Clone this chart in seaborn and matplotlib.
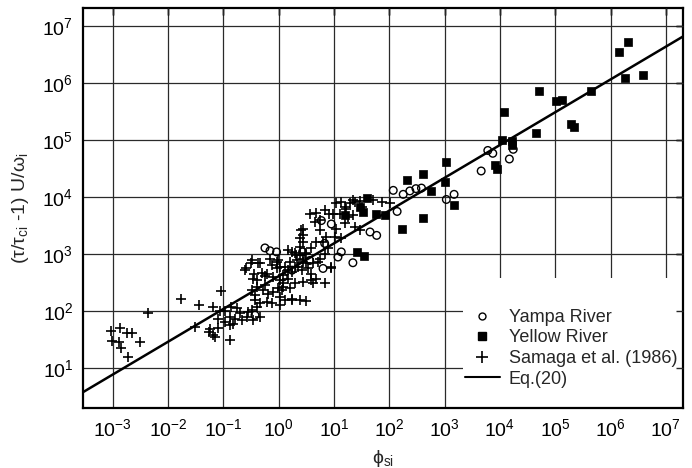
import numpy as np
import matplotlib
matplotlib.use("Agg")
import matplotlib.pyplot as plt
import seaborn as sns
from matplotlib.patches import Rectangle
from matplotlib.lines import Line2D
from matplotlib.ticker import NullLocator

# values, stored as log10(phi_si) and log10(y)
yampa_lx = [3.78, 3.87, 4.24, 4.17, 3.66, 2.07, 2.25, 2.37, 2.48, 2.58,
            2.14, 3.03, 3.17, 1.65, 1.77, 1.13, 1.07, 1.34, 0.77, 0.95,
            -0.25, -0.16, -0.04, 0.80, 0.08, -0.43, 0.43, 0.83, 0.24, 0.56]
yampa_ly = [4.82, 4.77, 4.84, 4.67, 4.46, 4.12, 4.05, 4.11, 4.15, 4.16,
            3.75, 3.96, 4.05, 3.39, 3.33, 3.04, 2.95, 2.85, 3.59, 3.53,
            3.11, 3.06, 3.04, 2.75, 2.60, 1.93, 3.04, 3.19, 2.72, 2.89]

yellow_lx = [6.32, 6.16, 6.58, 6.27, 5.64, 4.71, 5.02, 5.13, 4.07, 5.29,
             5.34, 4.66, 4.03, 4.21, 4.21, 3.91, 3.95, 3.03, 2.61, 2.32,
             3.00, 2.75, 3.16, 2.61, 2.22, 1.92, 1.76, 1.60, 1.52, 1.41,
             1.54, 1.19, 1.46]
yellow_ly = [6.72, 6.54, 6.14, 6.09, 5.87, 5.86, 5.69, 5.70, 5.49, 5.29,
             5.23, 5.13, 5.01, 4.99, 4.92, 4.56, 4.49, 4.62, 4.41, 4.30,
             4.27, 4.10, 3.86, 3.64, 3.44, 3.68, 3.70, 3.98, 3.74, 3.04,
             2.96, 3.68, 3.82]

samaga_lx = [-3.03, -2.88, -2.75, -2.65, -3.01, -2.89, -2.86, -2.51, -2.73, -2.36,
             -1.77, -1.45, -1.52, -1.05, -1.19, -1.27, -1.15, -0.89, -0.76, -0.67,
             -1.07, -0.98, -0.86, -0.56, -1.10, -0.98, -0.89, -0.83, -0.58, -1.19,
             -1.25, -0.48, -0.60, -0.51, -0.37, -0.45, -0.25, -0.61, -0.31, -0.46,
             -0.16, -0.01, -0.13, 0.02, -0.43, -0.34, -0.49, -0.40, -0.25, -0.43,
             -0.19, -0.10, -0.01, -0.22, -0.13, 0.08, 0.17, 0.20, 0.02, 0.11,
             0.38, 0.50, 0.08, 0.23, 0.17, 0.11, 0.41, 0.44, 0.38, 0.29,
             0.38, 0.47, 0.33, 0.43, 0.50, 0.34, 0.42, 0.68, 0.83, 0.91,
             0.65, 0.74, 0.44, 0.44, 1.04, 1.13, 1.19, 1.28, 1.37, 1.46,
             1.10, 1.25, 1.19, 1.37, 1.46, 1.04, 1.01, 1.13, 0.86, 0.80,
             0.68, 0.59, 0.50, 0.44, 0.32, 0.23, 0.20, 0.29, 0.53, 0.62,
             0.74, 0.83, 0.29, 0.44, 0.59, 0.68, 0.83, 0.95, -0.04, -0.10,
             0.02, 0.08, 1.34, 1.50, 1.71, 0.38, 0.17, -0.04, -0.49, -0.34,
             -0.22, -0.40, 0.62, 0.23, 0.02, 1.34, 1.86, 2.01, 1.22, 0.56,
             0.98, 0.74, -0.46, -0.34, -0.40, -0.28, 0.05, 0.23, -0.89, -1.10,
             -0.71, -0.80, 0.95, 0.71, 0.59, 0.89]
samaga_ly = [1.65, 1.70, 1.61, 1.61, 1.48, 1.46, 1.35, 1.46, 1.20, 1.96,
             2.22, 2.10, 1.72, 2.36, 2.07, 1.63, 1.54, 1.50, 2.05, 1.84,
             2.01, 2.01, 2.08, 1.99, 1.87, 1.81, 1.90, 1.78, 1.89, 1.58,
             1.68, 2.02, 2.76, 2.85, 2.85, 2.66, 2.61, 2.73, 2.67, 2.57,
             2.92, 2.89, 2.81, 2.78, 2.19, 2.14, 2.37, 2.43, 2.46, 2.28,
             2.30, 2.34, 2.40, 2.16, 2.14, 2.49, 2.57, 2.40, 2.25, 2.19,
             2.19, 2.18, 2.63, 2.69, 2.72, 2.78, 3.42, 3.33, 3.28, 3.02,
             2.98, 3.02, 2.89, 2.86, 2.84, 2.78, 2.72, 3.72, 3.78, 3.71,
             3.57, 3.42, 3.45, 3.22, 3.89, 3.92, 3.83, 3.89, 3.92, 3.94,
             3.71, 3.65, 3.54, 3.48, 3.42, 3.45, 3.30, 3.28, 3.30, 3.22,
             3.22, 3.10, 3.01, 2.92, 2.98, 3.04, 2.86, 2.78, 2.75, 2.84,
             2.92, 3.01, 2.49, 2.51, 2.54, 2.57, 2.49, 2.78, 2.75, 2.60,
             2.54, 2.43, 3.68, 3.83, 3.95, 3.13, 3.07, 2.87, 2.89, 2.84,
             2.66, 2.54, 2.49, 2.22, 2.11, 3.95, 3.92, 3.90, 3.80, 3.71,
             3.71, 3.60, 1.84, 1.90, 2.08, 2.37, 2.37, 2.19, 1.75, 1.70,
             1.96, 1.86, 2.75, 2.86, 2.66, 3.10]

# Eq.(20) end points across the plotted range
eq_x = [10 ** -3.54, 10 ** 7.31]
eq_y = [3.8, 6.6e6]

legend_labels = ["Yampa River", "Yellow River", "Samaga et al. (1986)", "Eq.(20)"]
x_decades = list(range(-3, 8))
y_decades = list(range(1, 8))

sns.set_style("white")
plt.rcParams['font.family'] = ['Liberation Sans', 'DejaVu Sans']
plt.rcParams['mathtext.fontset'] = 'custom'
plt.rcParams['mathtext.rm'] = 'Liberation Sans'
plt.rcParams['mathtext.it'] = 'Liberation Sans:italic'
plt.rcParams['mathtext.bf'] = 'Liberation Sans:bold'

fig = plt.figure(figsize=(6.92, 4.68), dpi=100)
pos = [0.120, 0.128, 0.867, 0.855]
ax = fig.add_axes(pos)
ax.set_xscale("log")
ax.set_yscale("log")
xlim = (10 ** -3.54, 10 ** 7.31)
ylim = (10 ** 0.30, 10 ** 7.32)

ax.set_axisbelow(True)
ax.grid(True, which="major", color="#2a2a2a", lw=0.9)

sns.lineplot(x=eq_x, y=eq_y, color="black", lw=1.8, ax=ax, zorder=4)
sns.scatterplot(x=10 ** np.array(samaga_lx), y=10 ** np.array(samaga_ly),
                marker="+", color="black", s=60, linewidth=1.2, ax=ax, zorder=3)
sns.scatterplot(x=10 ** np.array(yampa_lx), y=10 ** np.array(yampa_ly),
                marker="o", facecolors="none", edgecolor="black", s=30,
                linewidth=1.0, ax=ax, zorder=3)
sns.scatterplot(x=10 ** np.array(yellow_lx), y=10 ** np.array(yellow_ly),
                marker="s", color="black", edgecolor="black", s=30,
                linewidth=0.5, ax=ax, zorder=3)

# white block behind the legend hides the grid there
ax.add_patch(Rectangle((0.633, 0), 0.367, 0.325, transform=ax.transAxes,
                       facecolor="white", edgecolor="none", zorder=0.8))

xticks = [10.0 ** k for k in x_decades]
yticks = [10.0 ** k for k in y_decades]
ax.set_xticks(xticks)
ax.set_yticks(yticks)
ax.xaxis.set_minor_locator(NullLocator())
ax.yaxis.set_minor_locator(NullLocator())
ax.set_xlim(*xlim)
ax.set_ylim(*ylim)
ax.tick_params(direction="in", length=5, width=1, labelsize=14, pad=7,
               top=True, right=True, colors="black")
for sp in ax.spines.values():
    sp.set_linewidth(1.6)
    sp.set_color("black")

ax.set_xlabel("ϕ$_{\\rm si}$", fontsize=14, labelpad=6)
ax.set_ylabel("(τ/τ$_{\\rm ci}$ -1) U/ω$_{\\rm i}$", fontsize=14, labelpad=8)

# overlay for tick marks drawn over the legend block
ax2 = fig.add_axes(pos, frameon=False)
ax2.set_xscale("log")
ax2.set_yscale("log")
ax2.set_xticks(xticks)
ax2.set_yticks(yticks)
ax2.xaxis.set_minor_locator(NullLocator())
ax2.yaxis.set_minor_locator(NullLocator())
ax2.set_xlim(*xlim)
ax2.set_ylim(*ylim)
ax2.tick_params(direction="in", length=5, width=1, top=True, right=True,
                labelbottom=False, labelleft=False)
ax2.grid(False)

handles = [
    Line2D([], [], marker="o", mfc="none", mec="black", ls="none", ms=5, mew=1),
    Line2D([], [], marker="s", mfc="black", mec="black", ls="none", ms=6),
    Line2D([], [], marker="+", color="black", ls="none", ms=8, mew=1.2),
    Line2D([], [], color="black", lw=1.5),
]
ax.legend(handles, legend_labels, loc="upper left", bbox_to_anchor=(0.637, 0.248),
          frameon=False, fontsize=13, borderpad=0, borderaxespad=0,
          handlelength=1.9, handletextpad=0.5, labelspacing=0.2)

fig.savefig("out.png", dpi=100)
